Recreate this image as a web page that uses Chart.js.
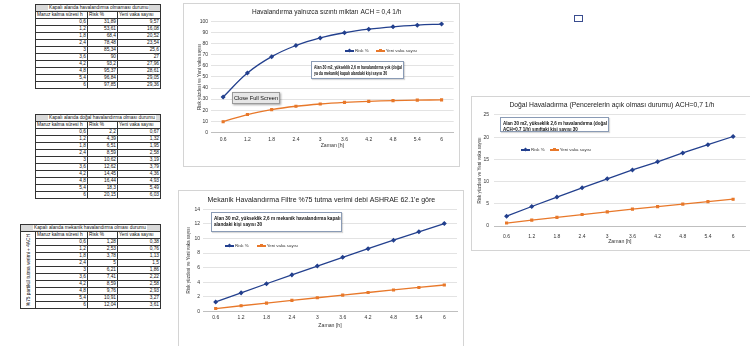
<!DOCTYPE html>
<html>
<head>
<meta charset="utf-8">
<script src="https://cdn.jsdelivr.net/npm/chart.js@4.4.1/dist/chart.umd.min.js"></script>
<style>
  html, body { margin: 0; padding: 0; background: #fff; }
  body { width: 750px; height: 346px; position: relative; overflow: hidden;
         font-family: "Liberation Sans", Arial, sans-serif; }
  .kutu { position: absolute; border: 1px solid #d4d4d4; background: #fff; box-sizing: border-box; }
  .kutu canvas { position: absolute; left: 0; top: 0; }
  .not { position: absolute; border: 1px solid #8a9bb5; background: #fff; font-size: 5px;
         line-height: 6px; padding: 2px 2px; box-sizing: border-box; color: #111; font-weight: bold;
         white-space: nowrap; overflow: hidden; box-shadow: 1px 1px 1px rgba(0,0,0,0.15); }
  .not div { display: inline-block; transform-origin: 0 0; }
  .lejant { position: absolute; font-size: 4.4px; color: #333; white-space: nowrap; line-height: 5px; }
  .lejant span { display: inline-block; vertical-align: middle; }
  .lejant .cizgi { width: 9px; height: 1.4px; margin-right: 1px; position: relative; }
  .lejant .cizgi i { position: absolute; left: 3px; top: -1px; width: 3px; height: 3px; }
  table.tablo { position: absolute; border-collapse: collapse; table-layout: fixed;
                font-size: 4.8px; color: #111; }
  table.tablo td { border: 0.8px solid #333; height: 6px; padding: 0 1px; line-height: 6px;
                   white-space: nowrap; overflow: hidden; }
  table.tablo td.say { text-align: right; }
  table.tablo td.bas { background: #d9d9d9; padding: 0; }
  table.tablo td.bas span { background: #fff; padding: 0 1px; margin-left: 12px; }
  table.tablo td.dikey { padding: 0; }
  table.tablo td.dikey div { writing-mode: vertical-rl; transform: rotate(180deg); margin: 0 auto;
                             font-size: 4.8px; line-height: 7px; }
  .tamekran { position: absolute; left: 232px; top: 92px; width: 48px; height: 12px; box-sizing: border-box;
              background: #e6e6e6; border: 1px solid #9a9a9a; font-size: 5.6px; line-height: 10px;
              white-space: nowrap; text-align: center; color: #111; box-shadow: 1px 1px 2px rgba(0,0,0,0.35); }
  .isaret { position: absolute; left: 574px; top: 15px; width: 9px; height: 7px; box-sizing: border-box;
            border: 1px solid #3a4d8f; }
</style>
</head>
<body>

<script>
// maruz kalma süresi (saat)
const zamanEtiketleri = ['0.6', '1.2', '1.8', '2.4', '3', '3.6', '4.2', '4.8', '5.4', '6'];

// havalandırma yok, yalnızca sızıntı (ACH = 0,4 1/h)
const riskSizinti = [31.89, 53.61, 68.4, 78.48, 85.34, 90, 93.2, 95.37, 96.84, 97.85];
const vakaSizinti = [9.57, 16.08, 20.52, 23.54, 25.6, 27, 27.96, 28.61, 29.05, 29.36];

// doğal havalandırma (ACH = 0,7 1/h)
const riskDogal = [2.2, 4.39, 6.51, 8.59, 10.62, 12.62, 14.45, 16.44, 18.3, 20.15];
const vakaDogal = [0.67, 1.32, 1.95, 2.58, 3.19, 3.79, 4.36, 4.93, 5.49, 6.03];

// mekanik havalandırma, %75 filtre + 4 ACH
const riskMekanik = [1.28, 2.53, 3.78, 5, 6.21, 7.41, 8.59, 9.76, 10.91, 12.04];
const vakaMekanik = [0.38, 0.76, 1.13, 1.5, 1.86, 2.22, 2.58, 2.93, 3.27, 3.61];

const MAVI = '#23408e';
const TURUNCU = '#e8782a';
const YAZI = "'Liberation Sans', Arial, sans-serif";

const virgul = v => String(v).replace('.', ',');

// ---- tablolar ----
function tabloYap(x, y, baslik, risk, vaka, yanYazi) {
  const t = document.createElement('table');
  t.className = 'tablo';
  t.style.left = x + 'px';
  t.style.top = y + 'px';
  let html = '<colgroup>' + (yanYazi ? '<col style="width:15px">' : '') +
    '<col style="width:52px"><col style="width:30px"><col style="width:43px"></colgroup>';
  html += '<tr><td class="bas" colspan="' + (yanYazi ? 4 : 3) + '"><span>' + baslik + '</span></td></tr>';
  html += '<tr>' + (yanYazi ? '<td class="dikey" rowspan="11"><div>' + yanYazi + '</div></td>' : '') +
    '<td>Maruz kalma süresi h</td><td>Risk %</td><td>Yeni vaka sayısı</td></tr>';
  zamanEtiketleri.forEach((z, i) => {
    html += '<tr><td class="say">' + virgul(z) + '</td><td class="say">' + virgul(risk[i]) +
      '</td><td class="say">' + virgul(vaka[i]) + '</td></tr>';
  });
  t.innerHTML = html;
  document.body.appendChild(t);
}

tabloYap(35, 4, 'Kapalı alanda havalandırma olmaması durumu', riskSizinti, vakaSizinti);
tabloYap(35, 114, 'Kapalı alanda doğal havalandırma olması durumu', riskDogal, vakaDogal);
tabloYap(20, 224, 'Kapalı alanda mekanik havalandırma olması durumu', riskMekanik, vakaMekanik,
  '%75 partikül tutma verimi + 4ACH');

// ---- grafikler ----
function grafikYap(k) {
  const kutu = document.createElement('div');
  kutu.className = 'kutu';
  Object.assign(kutu.style, { left: k.x + 'px', top: k.y + 'px', width: k.w + 'px', height: k.h + 'px' });
  const cv = document.createElement('canvas');
  cv.width = k.w - 2;
  cv.height = k.h - 2;
  kutu.appendChild(cv);
  document.body.appendChild(kutu);

  new Chart(cv, {
    type: 'line',
    data: {
      labels: zamanEtiketleri,
      datasets: [
        {
          label: 'Risk %', data: k.risk, borderColor: MAVI, backgroundColor: MAVI,
          borderWidth: 1.3, pointStyle: 'rectRot', pointRadius: 1.6, tension: k.egri ? 0.4 : 0
        },
        {
          label: 'Yeni vaka sayısı', data: k.vaka, borderColor: TURUNCU, backgroundColor: TURUNCU,
          borderWidth: 1.3, pointStyle: 'rect', pointRadius: 1.3, tension: k.egri ? 0.4 : 0
        }
      ]
    },
    options: {
      responsive: false,
      animation: false,
      layout: { padding: k.pad },
      plugins: {
        legend: { display: false },
        tooltip: { enabled: false },
        title: {
          display: true, text: k.baslik, color: '#222',
          font: { family: YAZI, size: k.baslikBoy, weight: 'normal', lineHeight: 1.2 },
          padding: k.baslikPad
        }
      },
      scales: {
        x: {
          offset: true,
          grid: { display: false, drawTicks: false },
          border: { color: '#bfbfbf' },
          ticks: { color: '#333', font: { family: YAZI, size: 5 }, padding: k.xEtiketPad, maxRotation: 0, autoSkip: false },
          title: { display: true, text: 'Zaman [h]', color: '#333', padding: 0,
                   font: { family: YAZI, size: 5.2, lineHeight: 1.2 } },
          afterFit: s => { s.height = k.xYuk; }
        },
        y: {
          min: 0, max: k.ymax,
          grid: { color: '#dcdcdc', drawTicks: false, lineWidth: 0.8 },
          border: { display: false },
          ticks: { stepSize: k.adim, color: '#333', font: { family: YAZI, size: 5 }, padding: k.yEtiketPad },
          title: { display: true, text: 'Risk yüzdesi ve Yeni vaka sayısı', color: '#333', padding: 0,
                   font: { family: YAZI, size: 4.6, lineHeight: 1.2 } },
          afterFit: s => { s.width = k.yGen; }
        }
      }
    }
  });
}

// açıklama kutusu: yazı kutunun genişliğine sığacak kadar yatayda daraltılır
function notYap(x, y, w, h, satirlar) {
  const d = document.createElement('div');
  d.className = 'not';
  Object.assign(d.style, { left: x + 'px', top: y + 'px', width: w + 'px', height: h + 'px' });
  const ic = document.createElement('div');
  ic.innerHTML = satirlar.join('<br>');
  d.appendChild(ic);
  document.body.appendChild(d);
  const olcek = Math.min(1, (w - 5) / ic.offsetWidth);
  ic.style.transform = 'scaleX(' + olcek + ')';
}

function lejantYap(x, y, aralik) {
  const d = document.createElement('div');
  d.className = 'lejant';
  d.style.left = x + 'px';
  d.style.top = y + 'px';
  d.innerHTML =
    '<span class="cizgi" style="background:' + MAVI + '"><i style="background:' + MAVI + ';transform:rotate(45deg)"></i></span>' +
    '<span>Risk %</span><span style="width:' + aralik + 'px"></span>' +
    '<span class="cizgi" style="background:' + TURUNCU + '"><i style="background:' + TURUNCU + '"></i></span>' +
    '<span>Yeni vaka sayısı</span>';
  document.body.appendChild(d);
}

grafikYap({
  x: 183, y: 3, w: 277, h: 164,
  baslik: 'Havalandırma yalnızca sızıntı miktarı ACH = 0,4 1/h', baslikBoy: 6.5,
  baslikPad: { top: 4.8, bottom: 5.1 },
  pad: { left: 13.4, right: 3, top: 0, bottom: 17.1 },
  yGen: 13.6, xYuk: 16.6, xEtiketPad: 4, yEtiketPad: 3,
  ymax: 100, adim: 10, egri: true,
  risk: riskSizinti, vaka: vakaSizinti
});

grafikYap({
  x: 178, y: 190, w: 286, h: 158,
  baslik: "Mekanik Havalandırma Filtre %75 tutma verimi debi ASHRAE 62.1'e göre", baslikBoy: 7,
  baslikPad: { top: 4.8, bottom: 5.1 },
  pad: { left: 6.7, right: 6, top: 0, bottom: 18.4 },
  yGen: 17.3, xYuk: 17.3, xEtiketPad: 3, yEtiketPad: 3,
  ymax: 14, adim: 2, egri: false,
  risk: riskMekanik, vaka: vakaMekanik
});

grafikYap({
  x: 471, y: 96, w: 281, h: 155,
  baslik: 'Doğal Havaladırma (Pencerelerin açık olması durumu) ACH=0,7 1/h', baslikBoy: 6.8,
  baslikPad: { top: 3.9, bottom: 5.9 },
  pad: { left: 4.7, right: 4, top: 0, bottom: 5.7 },
  yGen: 17.3, xYuk: 18.3, xEtiketPad: 8, yEtiketPad: 5,
  ymax: 25, adim: 5, egri: false,
  risk: riskDogal, vaka: vakaDogal
});

notYap(311, 61, 93, 18, ['Alan 30 m2, yükseklik 2,6 m havalandırma yok (doğal', 'ya da mekanik) kapalı alandaki kişi sayısı 30']);
notYap(211, 212, 131, 20, ['Alan 30 m2, yükseklik 2,6 m mekanik havalandırma  kapalı', 'alandaki kişi sayısı 30']);
notYap(500, 117, 109, 15, ['Alan 30 m2, yükseklik 2,6 m havalandırma (doğal', 'ACH=0,7 1/h) sınıftaki kişi sayısı 30']);

lejantYap(345, 48, 7);
lejantYap(225, 243, 8);
lejantYap(521, 147, 5);

const btn = document.createElement('div');
btn.className = 'tamekran';
btn.textContent = 'Close Full Screen';
document.body.appendChild(btn);

const isaret = document.createElement('div');
isaret.className = 'isaret';
document.body.appendChild(isaret);
</script>
</body>
</html>
